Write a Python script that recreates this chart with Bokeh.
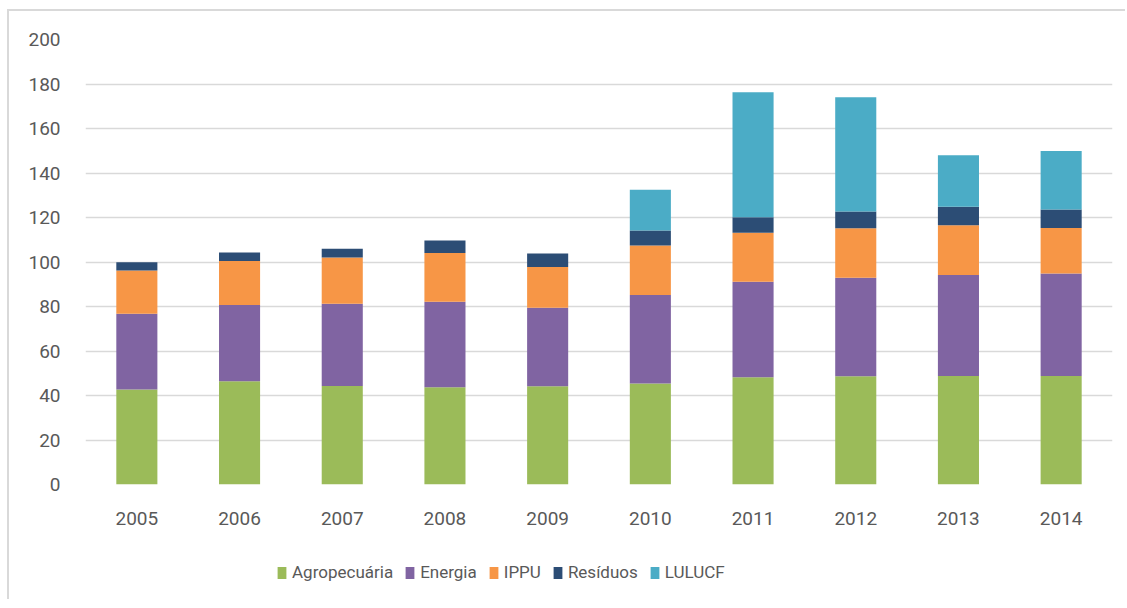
from bokeh.plotting import figure
from bokeh.layouts import column
from bokeh.models import Range1d, FactorRange, Legend, LegendItem, ColumnDataSource
from bokeh.embed import file_html
from bokeh.resources import INLINE

years = ["2005", "2006", "2007", "2008", "2009", "2010", "2011", "2012", "2013", "2014"]
agropecuaria = [42.7, 46.4, 44.3, 43.7, 44.2, 45.4, 48.2, 48.7, 48.8, 48.8]
energia = [34.0, 34.3, 36.9, 38.4, 35.2, 39.8, 42.9, 44.2, 45.4, 46.0]
ippu = [19.5, 19.7, 20.8, 21.9, 18.3, 22.2, 22.0, 22.3, 22.3, 20.5]
residuos = [3.7, 3.9, 3.9, 5.7, 6.1, 6.8, 7.0, 7.5, 8.3, 8.3]
lulucf = [0, 0, 0, 0, 0, 18.3, 56.2, 51.4, 23.2, 26.3]
series_names = ["Agropecuária", "Energia", "IPPU", "Resíduos", "LULUCF"]
colors = ["#9BBB59", "#8064A2", "#F79646", "#2C4D75", "#4BACC6"]
y_ticks = [0, 20, 40, 60, 80, 100, 120, 140, 160, 180, 200]

keys = ["agro", "ener", "ippu", "resi", "lulu"]
source = ColumnDataSource(dict(years=years, agro=agropecuaria, ener=energia,
                               ippu=ippu, resi=residuos, lulu=lulucf))

FONT = "Roboto"
TXT = "#595959"
BORDER = "2px solid #d9d9d9"
SHIFT = "translate(7px, 9px)"

p = figure(width=1118, height=530, output_backend="svg", toolbar_location=None,
           x_range=FactorRange(*years, range_padding=0), y_range=Range1d(0, 200),
           min_border_left=76, min_border_top=28, min_border_right=15, min_border_bottom=57)
p.styles = {"border-left": BORDER, "border-top": BORDER, "transform": SHIFT}

p.vbar_stack(keys, x="years", width=0.4, color=colors, source=source, line_color=None)

p.outline_line_color = None
p.xgrid.grid_line_color = None
p.ygrid.grid_line_color = "#d9d9d9"
p.ygrid.grid_line_width = 1.5
p.yaxis.ticker = y_ticks

for ax in (p.xaxis[0], p.yaxis[0]):
    ax.axis_line_color = None
    ax.major_tick_line_color = None
    ax.minor_tick_line_color = None
    ax.major_tick_out = 0
    ax.major_tick_in = 0
    ax.minor_tick_out = 0
    ax.major_label_text_font = FONT
    ax.major_label_text_font_size = "19px"
    ax.major_label_text_color = TXT

p.yaxis.major_label_standoff = 25
p.xaxis.major_label_standoff = 27

# legend strip below the chart (its frame is aligned with the chart's frame)
pl = figure(width=1118, height=60, output_backend="svg", toolbar_location=None,
            x_range=Range1d(0, 1), y_range=Range1d(0, 1),
            x_axis_location=None, y_axis_location=None,
            min_border_left=0, min_border_right=0, min_border_top=0, min_border_bottom=0)
pl.styles = {"border-left": BORDER, "transform": SHIFT}
pl.outline_line_color = None
pl.grid.visible = False

items = []
for name, c in zip(series_names, colors):
    # zero-height swatch source far outside the range; only the legend shows it
    r = pl.vbar(x=[100], top=[0], bottom=[0], width=0.4, color=c, line_color=None)
    items.append(LegendItem(label=name, renderers=[r]))

legend = Legend(items=items, orientation="horizontal", location=(191, 17),
                glyph_width=11, glyph_height=15, label_standoff=5, spacing=11,
                padding=0, margin=0, border_line_color=None, background_fill_alpha=0,
                label_text_font=FONT, label_text_font_size="17px",
                label_text_color=TXT)
pl.add_layout(legend, "center")

layout = column(p, pl, spacing=0)
open("out.html", "w").write(file_html(layout, INLINE))
